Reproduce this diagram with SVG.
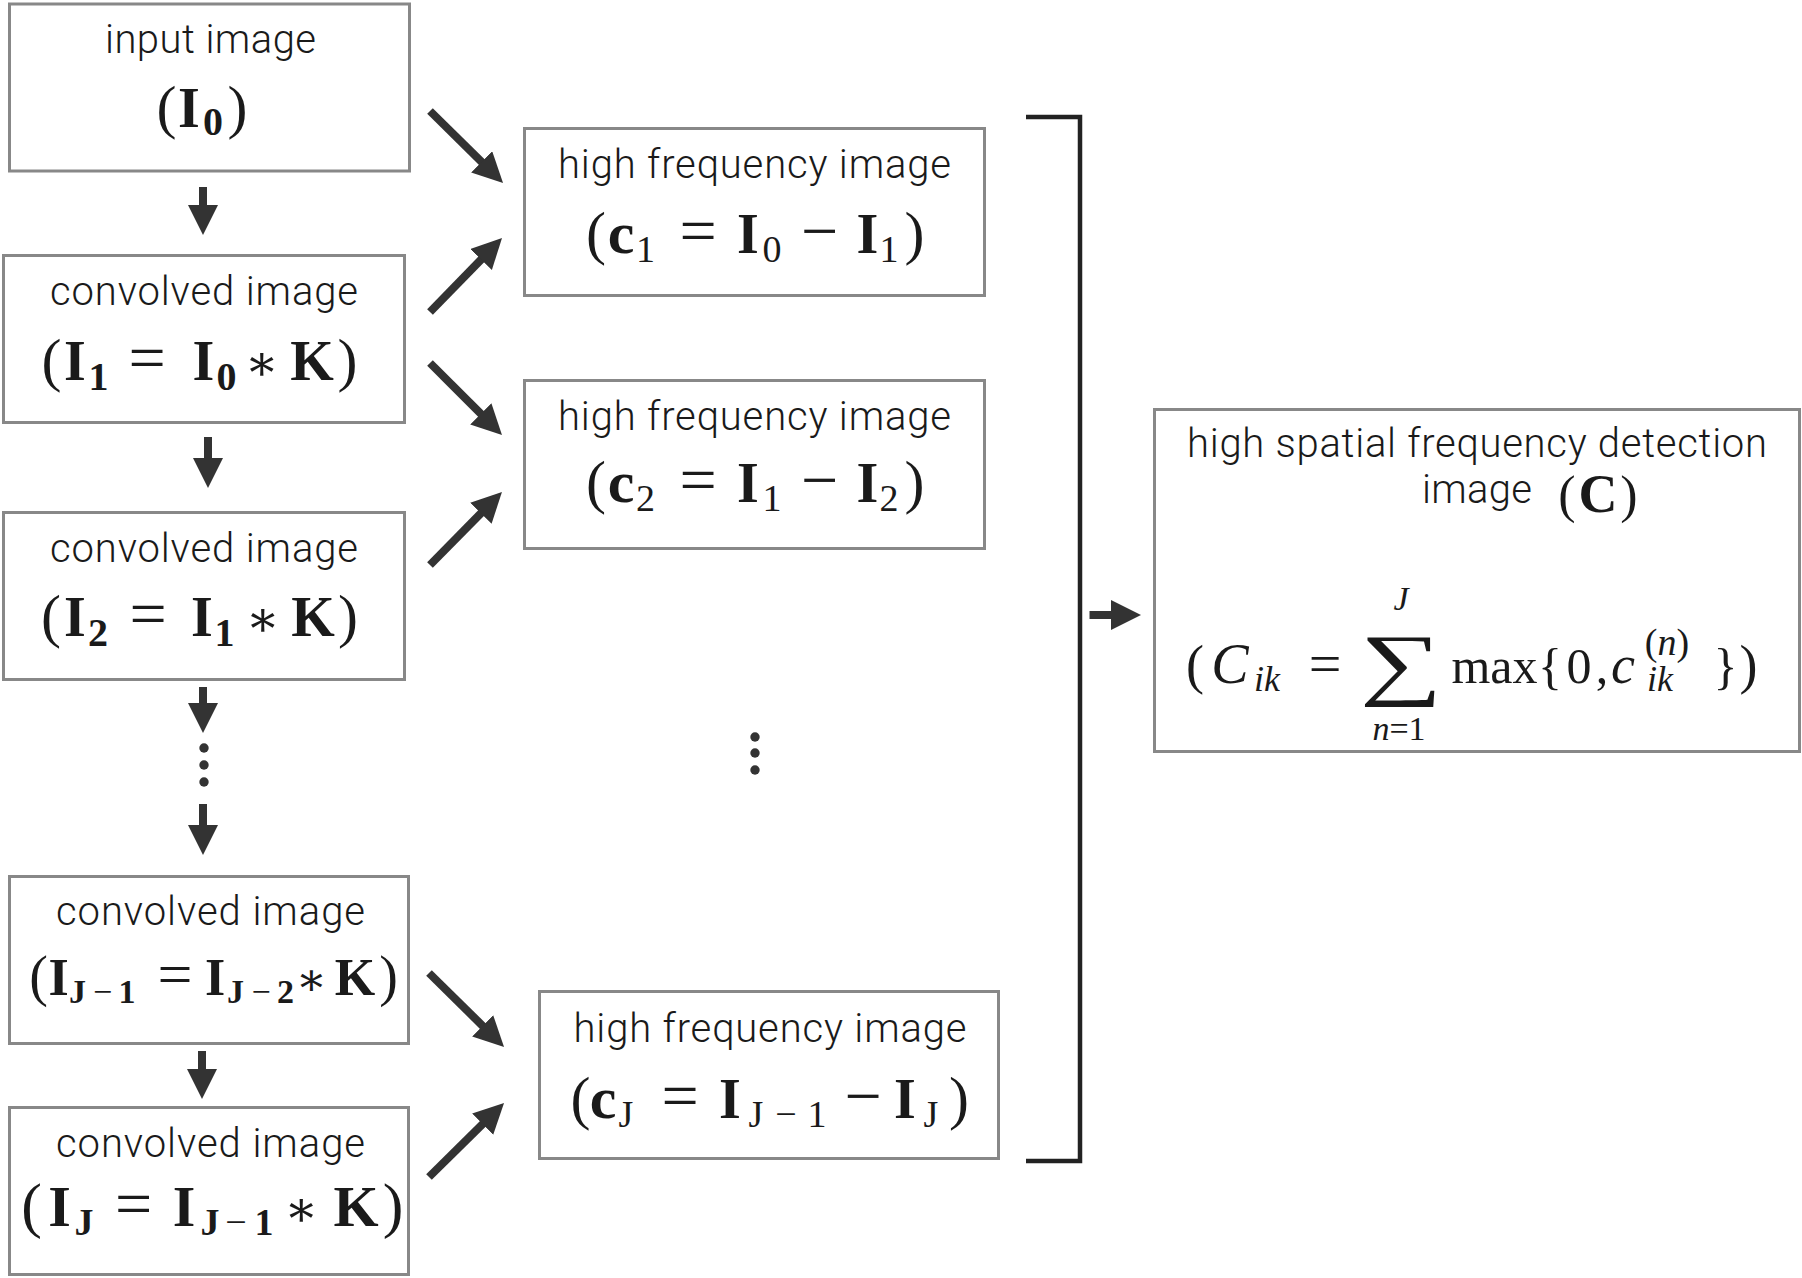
<svg xmlns="http://www.w3.org/2000/svg" width="1802" height="1278" viewBox="0 0 1802 1278">
<defs>
<style>
.box{fill:#fff;stroke:#888;stroke-width:3}
.lbl{font-family:Roboto,"Liberation Sans",sans-serif;font-weight:300;font-size:40px;fill:#1a1a1a;text-anchor:middle}
.m{font-family:"Liberation Serif","DejaVu Serif",serif;font-size:56px;fill:#1a1a1a;text-anchor:middle}
.b{font-weight:bold}
.s{font-size:40px}
.sn{font-size:38px;font-weight:normal}
.p{font-size:60px;font-weight:normal}
.eq{font-size:66px;font-weight:normal}
.ast{font-size:50px;font-weight:normal;font-family:"DejaVu Serif","Liberation Serif",serif}
.it{font-style:italic}
.arr{stroke:#333;stroke-width:8;fill:none;marker-end:url(#ah)}
</style>
<marker id="ah" markerUnits="userSpaceOnUse" markerWidth="32" markerHeight="32" refX="2" refY="15" orient="auto" viewBox="0 0 32 32">
<path d="M0,0 L30,15 L0,30 Z" fill="#333"/>
</marker>
</defs>

<g id="connectors">
<line class="arr" x1="203" y1="187" x2="203" y2="207"/>
<line class="arr" x1="208" y1="437" x2="208" y2="460"/>
<line class="arr" x1="203" y1="687" x2="203" y2="705"/>
<line class="arr" x1="203" y1="804" x2="203" y2="827"/>
<line class="arr" x1="202" y1="1051" x2="202" y2="1071"/>
<circle cx="204" cy="748" r="4.7" fill="#333"/>
<circle cx="204" cy="765" r="4.7" fill="#333"/>
<circle cx="204" cy="782" r="4.7" fill="#333"/>
<line class="arr" x1="430" y1="111" x2="483.1" y2="163.3"/>
<line class="arr" x1="430" y1="312" x2="482.5" y2="258.1"/>
<line class="arr" x1="430" y1="363" x2="482.2" y2="415.2"/>
<line class="arr" x1="430" y1="565" x2="482.3" y2="511.9"/>
<line class="arr" x1="429" y1="973" x2="484.1" y2="1027.3"/>
<line class="arr" x1="429" y1="1177" x2="484.1" y2="1122.7"/>
<circle cx="755" cy="737" r="4.7" fill="#333"/>
<circle cx="755" cy="753" r="4.7" fill="#333"/>
<circle cx="755" cy="770" r="4.7" fill="#333"/>
<path d="M1026,117 H1080 V1161 H1026" fill="none" stroke="#222" stroke-width="4.5"/>
<line class="arr" x1="1089.5" y1="615" x2="1113" y2="615"/>
</g>

<g id="input">
<rect class="box" x="9.5" y="4" width="400" height="167"/>
<text class="lbl" x="210.5" y="53" textLength="211">input image</text>
<text class="m"><tspan class="p" x="166.5" y="127">(</tspan><tspan class="b" x="189" y="127">I</tspan><tspan class="b s" x="213" y="135">0</tspan><tspan class="p" x="237.5" y="127">)</tspan></text>
</g>

<g id="conv1">
<rect class="box" x="3.5" y="255.5" width="401" height="167"/>
<text class="lbl" x="204" y="305" textLength="308">convolved image</text>
<text class="m"><tspan class="p" x="51.5" y="380">(</tspan><tspan class="b" x="75" y="380">I</tspan><tspan class="b s" x="98.5" y="390">1</tspan><tspan class="eq" x="147" y="380">=</tspan><tspan class="b" x="203.5" y="380">I</tspan><tspan class="b s" x="226.5" y="390">0</tspan><tspan class="ast" x="262" y="380">∗</tspan><tspan class="b" x="312" y="380">K</tspan><tspan class="p" x="347.5" y="380">)</tspan></text>
</g>

<g id="conv2">
<rect class="box" x="3.5" y="512.5" width="401" height="167"/>
<text class="lbl" x="204" y="562" textLength="308">convolved image</text>
<text class="m"><tspan class="p" x="51" y="636">(</tspan><tspan class="b" x="75" y="636">I</tspan><tspan class="b s" x="98" y="646">2</tspan><tspan class="eq" x="148" y="636">=</tspan><tspan class="b" x="202" y="636">I</tspan><tspan class="b s" x="224.5" y="646">1</tspan><tspan class="ast" x="263" y="636">∗</tspan><tspan class="b" x="313" y="636">K</tspan><tspan class="p" x="348" y="636">)</tspan></text>
</g>

<g id="convJm1">
<rect class="box" x="9.5" y="876.5" width="399" height="167"/>
<text class="lbl" x="210.5" y="925" textLength="309">convolved image</text>
<text class="m" style="font-size:52px"><tspan class="p" style="font-size:56px" x="38.5" y="995">(</tspan><tspan class="b" x="58.5" y="995">I</tspan><tspan class="b" style="font-size:34px" x="77.5" y="1003">J</tspan><tspan style="font-size:34px" x="102.5" y="1003">−</tspan><tspan class="b" style="font-size:34px" x="127" y="1003">1</tspan><tspan class="eq" style="font-size:62px" x="175" y="995">=</tspan><tspan class="b" x="215" y="995">I</tspan><tspan class="b" style="font-size:34px" x="235.5" y="1003">J</tspan><tspan style="font-size:34px" x="261" y="1003">−</tspan><tspan class="b" style="font-size:34px" x="285.5" y="1003">2</tspan><tspan class="ast" style="font-size:46px" x="311.5" y="995">∗</tspan><tspan class="b" x="355" y="995">K</tspan><tspan class="p" style="font-size:56px" x="388.5" y="995">)</tspan></text>
</g>

<g id="convJ">
<rect class="box" x="9.5" y="1107.5" width="399" height="167"/>
<text class="lbl" x="210.5" y="1157" textLength="309">convolved image</text>
<text class="m" style="font-size:58px"><tspan class="p" style="font-size:62px" x="31.5" y="1226">(</tspan><tspan class="b" x="59.5" y="1226">I</tspan><tspan class="b" style="font-size:38px" x="84" y="1235">J</tspan><tspan class="eq" x="133.5" y="1226">=</tspan><tspan class="b" x="184" y="1226">I</tspan><tspan class="b" style="font-size:38px" x="210" y="1235">J</tspan><tspan style="font-size:38px" x="236" y="1235">−</tspan><tspan class="b" style="font-size:38px" x="264" y="1235">1</tspan><tspan class="ast" x="301.5" y="1226">∗</tspan><tspan class="b" x="356" y="1226">K</tspan><tspan class="p" style="font-size:62px" x="393" y="1226">)</tspan></text>
</g>

<g id="hf1">
<rect class="box" x="524.5" y="128.5" width="460" height="167"/>
<text class="lbl" x="754.5" y="178" textLength="393">high frequency image</text>
<text class="m"><tspan class="p" x="596" y="253">(</tspan><tspan class="b" style="font-size:60px" x="621" y="253">c</tspan><tspan class="sn" x="645.5" y="262">1</tspan><tspan class="eq" x="698" y="253">=</tspan><tspan class="b" x="748" y="253">I</tspan><tspan class="sn" x="772" y="262">0</tspan><tspan class="eq" x="819.5" y="253">−</tspan><tspan class="b" x="867.5" y="253">I</tspan><tspan class="sn" x="889" y="262">1</tspan><tspan class="p" x="914.5" y="253">)</tspan></text>
</g>

<g id="hf2">
<rect class="box" x="524.5" y="380.5" width="460" height="168"/>
<text class="lbl" x="754.5" y="430" textLength="393">high frequency image</text>
<text class="m"><tspan class="p" x="596" y="502">(</tspan><tspan class="b" style="font-size:60px" x="621" y="502">c</tspan><tspan class="sn" x="645.5" y="511">2</tspan><tspan class="eq" x="698" y="502">=</tspan><tspan class="b" x="748" y="502">I</tspan><tspan class="sn" x="772" y="511">1</tspan><tspan class="eq" x="819.5" y="502">−</tspan><tspan class="b" x="867.5" y="502">I</tspan><tspan class="sn" x="889" y="511">2</tspan><tspan class="p" x="914.5" y="502">)</tspan></text>
</g>

<g id="hfJ">
<rect class="box" x="539.5" y="991.5" width="459" height="167"/>
<text class="lbl" x="770" y="1042" textLength="393">high frequency image</text>
<text class="m"><tspan class="p" x="580.5" y="1118">(</tspan><tspan class="b" style="font-size:60px" x="603" y="1118">c</tspan><tspan class="sn" x="626" y="1127">J</tspan><tspan class="eq" x="680" y="1118">=</tspan><tspan class="b" x="730" y="1118">I</tspan><tspan class="sn" x="756" y="1127">J</tspan><tspan class="sn" x="786" y="1127">−</tspan><tspan class="sn" x="817" y="1127">1</tspan><tspan class="eq" x="863" y="1118">−</tspan><tspan class="b" x="905" y="1118">I</tspan><tspan class="sn" x="931" y="1127">J</tspan><tspan class="p" x="959" y="1118">)</tspan></text>
</g>

<g id="detection">
<rect class="box" x="1154.5" y="409.5" width="645" height="342"/>
<text class="lbl" x="1477" y="457" textLength="580">high spatial frequency detection</text>
<text class="lbl" x="1477" y="503" textLength="110">image</text>
<text class="m" style="font-size:54px"><tspan x="1567" y="512" style="font-size:52px">(</tspan><tspan class="b" x="1598" y="512">C</tspan><tspan x="1629" y="512" style="font-size:52px">)</tspan></text>
<text class="m" style="font-size:50px"><tspan x="1195" y="683" style="font-size:54px">(</tspan><tspan class="it" style="font-size:56px" x="1230" y="683">C</tspan><tspan class="it" style="font-size:36px" x="1267" y="691">ik</tspan><tspan x="1325" y="683" style="font-size:58px">=</tspan><tspan class="it" style="font-size:34px" x="1401" y="610">J</tspan><tspan style="font-size:34px" x="1399" y="740"><tspan class="it">n</tspan>=1</tspan><tspan x="1494.5" y="683">max</tspan><tspan x="1550" y="683">{</tspan><tspan x="1579" y="683">0</tspan><tspan x="1602" y="683">,</tspan><tspan class="it" style="font-size:54px" x="1623" y="683">c</tspan><tspan style="font-size:38px" x="1667" y="655">(<tspan class="it">n</tspan>)</tspan><tspan class="it" style="font-size:36px" x="1660" y="691">ik</tspan><tspan x="1725.5" y="683">}</tspan><tspan x="1748.5" y="683" style="font-size:54px">)</tspan></text>
<text class="m" style="font-size:80px" transform="translate(1401,690) scale(1.45,1)">∑</text>
</g>
</svg>
